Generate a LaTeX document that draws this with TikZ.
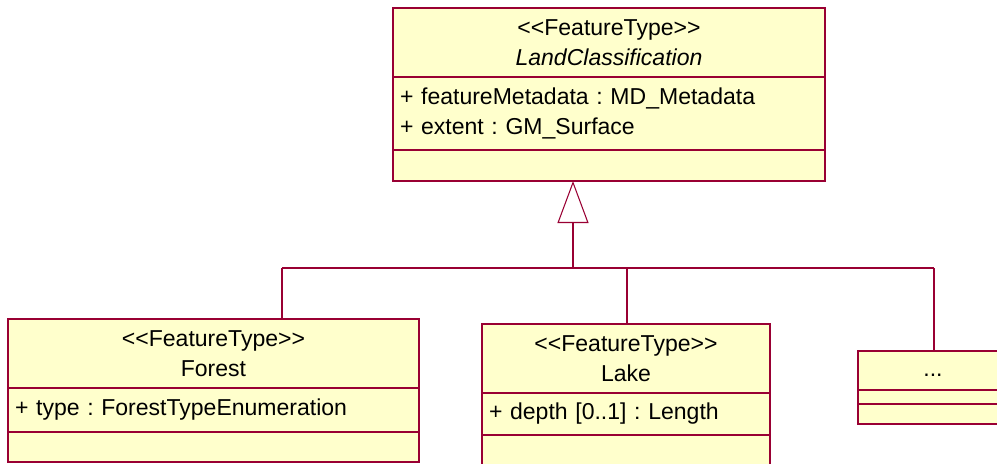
\documentclass[tikz,border=0pt]{standalone}
\usepackage{fontspec}
\setmainfont{Liberation Sans}[Ligatures=TeXOff]
\usepackage{tikz}
\usetikzlibrary{positioning, arrows.meta}
\definecolor{umlline}{RGB}{153,0,51}
\definecolor{umlfill}{RGB}{255,255,204}
\frenchspacing

\begin{document}
\begin{tikzpicture}[
    every node/.style={draw=umlline, fill=umlfill, line width=0.6pt, inner sep=0pt, outer sep=0pt,
        font=\fontsize{13.1}{17}\selectfont},
    head/.style={align=center, minimum height=1.38cm},
    attr/.style={align=left, inner xsep=0.14cm},
    link/.style={draw=umlline, line width=0.6pt},
    node distance=0cm
]
\clip (0,0) rectangle (19.94,-9.26);

% LandClassification
\node[head, minimum width=8.64cm, anchor=north west] (landH) at (7.86,-0.16)
    {<<FeatureType>>\\\textit{LandClassification}};
\node[attr, text width=8.36cm, minimum height=1.46cm, below=of landH] (landA)
    {+ featureMetadata : MD\_Metadata\\+ extent : GM\_Surface};
\node[minimum width=8.64cm, minimum height=0.62cm, below=of landA] (landO) {};

% Forest
\node[head, minimum width=8.22cm, anchor=north west] (forestH) at (0.16,-6.38)
    {<<FeatureType>>\\Forest};
\node[attr, text width=7.94cm, minimum height=0.88cm, below=of forestH] (forestA)
    {+ type : ForestTypeEnumeration};
\node[minimum width=8.22cm, minimum height=0.60cm, below=of forestA] (forestO) {};

% Lake
\node[head, minimum width=5.76cm, anchor=north west] (lakeH) at (9.64,-6.48)
    {<<FeatureType>>\\Lake};
\node[attr, text width=5.48cm, minimum height=0.84cm, below=of lakeH] (lakeA)
    {+ depth [0..1] : Length};
\node[minimum width=5.76cm, minimum height=0.62cm, below=of lakeA] (lakeO) {};

% other feature types
\node[minimum width=3cm, minimum height=0.78cm, anchor=north west] (moreH) at (17.16,-7.02) {\strut...};
\node[minimum width=3cm, minimum height=0.28cm, below=of moreH] (moreA) {};
\node[minimum width=3cm, minimum height=0.40cm, below=of moreA] (moreO) {};

% generalization
\coordinate (hub) at (11.46,-5.36);
\coordinate (forestK) at (5.64,-5.36);
\coordinate (lakeK) at (12.54,-5.36);
\coordinate (moreK) at (18.68,-5.36);
\draw[link, -{Triangle[open, length=0.84cm, width=0.62cm]}] (hub) -- (hub |- landO.south);
\draw[link] (forestK) -- (moreK);
\draw[link] (forestK) -- (forestK |- forestH.north);
\draw[link] (lakeK) -- (lakeK |- lakeH.north);
\draw[link] (moreK) -- (moreK |- moreH.north);
\end{tikzpicture}
\end{document}
